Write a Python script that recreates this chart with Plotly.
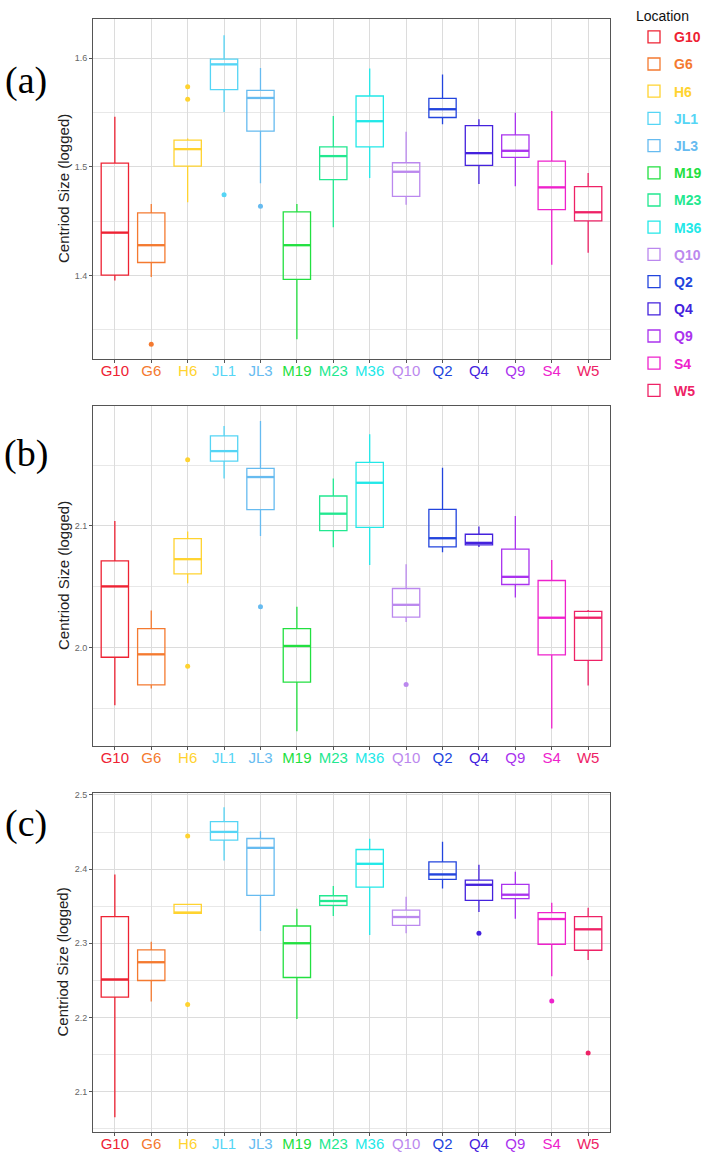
import plotly.graph_objects as go

locations = ["G10", "G6", "H6", "JL1", "JL3", "M19", "M23", "M36", "Q10", "Q2", "Q4", "Q9", "S4", "W5"]
colors = ["#EE2233", "#F47A30", "#FFD330", "#55D5F5", "#66BBF0", "#22E040", "#22E890",
          "#22E8E8", "#BB88EE", "#2244DD", "#4422DD", "#AA33EE", "#EE22CC", "#EE2266"]

# Panel (a): lower whisker, Q1, median, Q3, upper whisker
a_low = [1.3954, 1.3985, 1.4673, 1.5504, 1.4847, 1.3413, 1.4443, 1.4896, 1.4651, 1.5391, 1.4841, 1.4820, 1.4098, 1.4208]
a_q1 = [1.4003, 1.4119, 1.5006, 1.5709, 1.5327, 1.3963, 1.4881, 1.5183, 1.4728, 1.5453, 1.5012, 1.5086, 1.4606, 1.4502]
a_med = [1.4394, 1.4278, 1.5162, 1.5942, 1.5633, 1.4278, 1.5098, 1.5419, 1.4954, 1.5529, 1.5125, 1.5147, 1.4810, 1.4581]
a_q3 = [1.5034, 1.4575, 1.5245, 1.5991, 1.5703, 1.4584, 1.5183, 1.5651, 1.5037, 1.5630, 1.5379, 1.5294, 1.5052, 1.4817]
a_high = [1.5460, 1.4657, 1.5260, 1.6211, 1.5908, 1.4657, 1.5468, 1.5905, 1.5321, 1.5850, 1.5437, 1.5498, 1.5514, 1.4942]
a_out = {"G6": [1.3367], "H6": [1.5737, 1.5621], "JL1": [1.4743], "JL3": [1.4636]}

# Panel (b)
b_low = [1.9527, 1.9664, 2.0530, 2.1391, 2.0918, 1.9314, 2.0825, 2.0680, 2.0210, 2.0784, 2.0828, 2.0413, 1.9336, 1.9689]
b_q1 = [1.9921, 1.9694, 2.0607, 2.1533, 2.1134, 1.9716, 2.0962, 2.0989, 2.0251, 2.0828, 2.0844, 2.0519, 1.9940, 1.9896]
b_med = [2.0503, 1.9945, 2.0727, 2.1615, 2.1402, 2.0014, 2.1101, 2.1355, 2.0352, 2.0899, 2.0861, 2.0582, 2.0246, 2.0246]
b_q3 = [2.0713, 2.0156, 2.0896, 2.1740, 2.1473, 2.0156, 2.1246, 2.1522, 2.0486, 2.1137, 2.0932, 2.0809, 2.0552, 2.0298]
b_high = [2.1041, 2.0306, 2.0954, 2.1822, 2.1863, 2.0336, 2.1391, 2.1754, 2.0686, 2.1478, 2.0995, 2.1082, 2.0721, 2.0309]
b_out = {"H6": [2.1544, 1.9847], "JL3": [2.0336], "Q10": [1.9697]}

# Panel (c)
c_low = [2.0655, 2.2215, 2.3404, 2.4117, 2.3166, 2.1978, 2.3368, 2.3112, 2.3135, 2.3740, 2.3422, 2.3332, 2.2556, 2.2776]
c_q1 = [2.2274, 2.2498, 2.3404, 2.4390, 2.3646, 2.2538, 2.3511, 2.3758, 2.3242, 2.3861, 2.3578, 2.3601, 2.2987, 2.2906]
c_med = [2.2511, 2.2744, 2.3413, 2.4502, 2.4287, 2.3000, 2.3570, 2.4072, 2.3354, 2.3928, 2.3789, 2.3655, 2.3327, 2.3188]
c_q3 = [2.3359, 2.2910, 2.3525, 2.4641, 2.4413, 2.3233, 2.3641, 2.4265, 2.3448, 2.4099, 2.3852, 2.3794, 2.3413, 2.3359]
c_high = [2.3928, 2.3022, 2.3525, 2.4834, 2.4511, 2.3466, 2.3771, 2.4408, 2.3628, 2.4368, 2.4058, 2.3964, 2.3547, 2.3480]
c_out = {"H6": [2.4448, 2.2175], "Q4": [2.3135], "S4": [2.2220], "W5": [2.1520]}

panels = [
    ("(a)", a_low, a_q1, a_med, a_q3, a_high, a_out, [1.323, 1.636], [1.4, 1.5, 1.6]),
    ("(b)", b_low, b_q1, b_med, b_q3, b_high, b_out, [1.9191, 2.1986], [2.0, 2.1]),
    ("(c)", c_low, c_q1, c_med, c_q3, c_high, c_out, [2.0453, 2.5027], [2.1, 2.2, 2.3, 2.4, 2.5]),
]

W, H = 709, 1175
x_dom = [93 / W, 610 / W]
pix_rows = [(16, 357), (404, 745), (792, 1132)]
label_y = [78, 452, 823]
BOX_W = 0.75

fig = go.Figure()
layout = dict(
    width=W, height=H, margin=dict(l=0, r=0, t=0, b=0),
    paper_bgcolor="white", plot_bgcolor="white",
    boxmode="overlay", font=dict(family="Liberation Sans, Arial, sans-serif"),
    legend=dict(
        x=634 / W, y=1, xanchor="left", yanchor="top",
        title=dict(text="Location", font=dict(size=14, color="#111")),
        font=dict(size=14), tracegroupgap=6, itemwidth=30,
    ),
)
annotations = []
idx = list(range(len(locations)))
ticktext = [f"<span style='color:{c}'>{l}</span>" for l, c in zip(locations, colors)]

for p, (lab, lo, q1, med, q3, hi, outl, yr, tv) in enumerate(panels):
    sfx = "" if p == 0 else str(p + 1)
    xa, ya = "x" + sfx, "y" + sfx
    top, bot = pix_rows[p]
    for i, loc in enumerate(locations):
        c = colors[i]
        fig.add_trace(go.Box(
            x=[i], q1=[q1[i]], median=[med[i]], q3=[q3[i]],
            lowerfence=[lo[i]], upperfence=[hi[i]],
            name=f"<b><span style='color:{c}'>{loc}</span></b>",
            legendgroup=loc, showlegend=(p == 0),
            line=dict(color=c, width=1.3), fillcolor="rgba(255,255,255,0)",
            whiskerwidth=0, width=BOX_W, boxpoints=False,
            xaxis=xa, yaxis=ya, hoverinfo="skip",
        ))
        # thicker median bar (ggplot style)
        fig.add_trace(go.Scatter(
            x=[i - BOX_W / 2, i + BOX_W / 2], y=[med[i], med[i]], mode="lines",
            line=dict(color=c, width=2.3), showlegend=False, legendgroup=loc,
            xaxis=xa, yaxis=ya, hoverinfo="skip",
        ))
        if loc in outl:
            fig.add_trace(go.Scatter(
                x=[i] * len(outl[loc]), y=outl[loc], mode="markers",
                marker=dict(color=c, size=5), showlegend=False,
                legendgroup=loc, xaxis=xa, yaxis=ya, hoverinfo="skip",
            ))
    layout["xaxis" + sfx] = dict(
        domain=x_dom, anchor=ya, range=[-0.6, len(locations) - 0.4],
        tickvals=idx, ticktext=ticktext, ticklabelstandoff=-5,
        tickfont=dict(size=15), showgrid=True, gridcolor="#DCDCDC", gridwidth=1,
        showline=True, mirror=True, linecolor="#555", linewidth=1,
        ticks="outside", ticklen=3, tickcolor="#555", zeroline=False,
    )
    layout["yaxis" + sfx] = dict(
        domain=[1 - bot / H, 1 - top / H], anchor=xa, range=yr,
        tickvals=tv, ticktext=[f"{v:.1f}" for v in tv],
        tickfont=dict(size=9, color="#666"),
        showgrid=True, gridcolor="#DCDCDC", gridwidth=1,
        minor=dict(dtick=0.05, tick0=0, showgrid=True, gridcolor="#E8E8E8", gridwidth=0.8),
        showline=True, mirror=True, linecolor="#555", linewidth=1,
        ticks="outside", ticklen=3, tickcolor="#555", zeroline=False,
    )
    annotations.append(dict(
        text="Centriod Size (logged)", textangle=-90, xref="paper", yref="paper",
        x=63 / W, y=1 - (top + bot) / 2 / H, showarrow=False,
        font=dict(size=15, color="#222"), xanchor="center", yanchor="middle",
    ))
    annotations.append(dict(
        text=lab, xref="paper", yref="paper", x=26 / W, y=1 - label_y[p] / H,
        showarrow=False, font=dict(size=38, color="#000", family="Liberation Serif, Times New Roman, serif"),
        xanchor="center", yanchor="middle",
    ))

layout["annotations"] = annotations
fig.update_layout(**layout)
fig.write_html("out.html")
